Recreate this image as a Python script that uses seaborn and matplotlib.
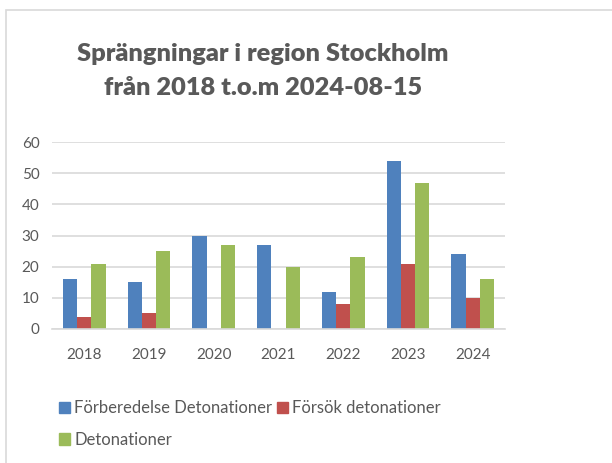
import pandas as pd
import matplotlib.pyplot as plt
import matplotlib.patches as mpatches
import seaborn as sns

# Data
years = ['2018', '2019', '2020', '2021', '2022', '2023', '2024']
forberedelse = [16, 15, 30, 27, 12, 54, 24]
forsok = [4, 5, 0, 0, 8, 21, 10]
detonationer = [21, 25, 27, 20, 23, 47, 16]
series_names = ['Förberedelse Detonationer', 'Försök detonationer', 'Detonationer']
colors = ['#4F81BD', '#C0504D', '#9BBB59']

data = pd.DataFrame({
    'År': years * 3,
    'Antal': forberedelse + forsok + detonationer,
    'Typ': [series_names[0]] * 7 + [series_names[1]] * 7 + [series_names[2]] * 7,
})

sns.set_style('white')
plt.rcParams['font.family'] = ['Lato', 'DejaVu Sans']
text_color = '#595959'

fig = plt.figure(figsize=(6.12, 4.63), dpi=100)
ax = fig.add_axes([52 / 612, 1 - 329 / 463, (505 - 52) / 612, (329 - 142) / 463])

sns.barplot(data=data, x='År', y='Antal', hue='Typ', palette=colors,
            width=0.66, gap=0, ax=ax, legend=False, saturation=1,
            edgecolor='none')

ax.set_ylim(0, 60)
ax.set_yticks(range(0, 61, 10))
ax.set_xlabel('')
ax.set_ylabel('')
ax.yaxis.grid(True, color='#D9D9D9', linewidth=1.2)
ax.set_axisbelow(True)
for s in ['top', 'right', 'left']:
    ax.spines[s].set_visible(False)
ax.spines['bottom'].set_color('#D9D9D9')
ax.spines['bottom'].set_linewidth(1.2)
ax.tick_params(axis='both', length=0, labelsize=11, colors=text_color)
ax.tick_params(axis='x', pad=14)
ax.tick_params(axis='y', pad=9)

# Title
fig.text(263 / 612, 1 - 71 / 463, 'Sprängningar i region Stockholm\nfrån 2018 t.o.m 2024-08-15',
         ha='center', va='center', fontsize=18.3, fontweight='heavy',
         color=text_color, linespacing=1.65)

# Legend (row-wise order)
handles = [mpatches.Patch(color=c) for c in colors]
order = [0, 2, 1]
fig.legend([handles[i] for i in order], [series_names[i] for i in order],
           ncol=2, loc='upper left', bbox_to_anchor=(44 / 612, 1 - 385 / 463),
           frameon=False, fontsize=12, labelcolor=text_color,
           handlelength=0.65, handleheight=0.65, handletextpad=0.25,
           columnspacing=0.3, labelspacing=0.95)

# Light chart-area frame (left and top edges visible)
fig.patches.append(mpatches.Rectangle((6 / 612, -0.1), 1.2, 1 - 10 / 463 + 0.1,
                                      transform=fig.transFigure, fill=False,
                                      edgecolor='#D9D9D9', linewidth=1.2))

plt.savefig('out.png', dpi=100)
